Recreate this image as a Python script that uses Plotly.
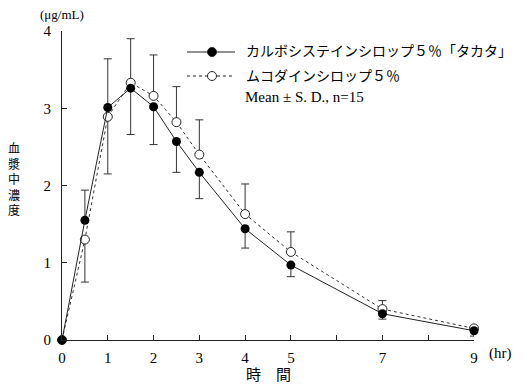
import plotly.graph_objects as go

# ---- data ----
time_hr = [0, 0.5, 1, 1.5, 2, 2.5, 3, 4, 5, 7, 9]
carbo_mean = [0, 1.55, 3.01, 3.26, 3.02, 2.57, 2.17, 1.44, 0.97, 0.34, 0.12]
carbo_sd = [0, 0.39, 0.63, 0.60, 0.49, 0.40, 0.34, 0.25, 0.15, 0.07, 0.07]
muco_mean = [0, 1.30, 2.89, 3.33, 3.16, 2.82, 2.40, 1.63, 1.14, 0.40, 0.15]
muco_sd = [0, 0.55, 0.74, 0.57, 0.53, 0.46, 0.45, 0.39, 0.26, 0.11, 0.03]

x_tickvals = [0, 1, 2, 3, 4, 5, 6, 7, 8, 9]
x_ticktext = ["0", "1", "2", "3", "4", "5", "", "7", "", "9"]
y_tickvals = [0, 1, 2, 3, 4]

carbo_name = "カルボシステインシロップ５％「タカタ」"
muco_name = "ムコダインシロップ５％"
note_text = "Mean ± S. D., n=15"
y_title = "血漿中濃度"

# one-sided SD bars: the upper series shows +SD, the lower series shows -SD
carbo_up = [s if c >= m else 0 for c, m, s in zip(carbo_mean, muco_mean, carbo_sd)]
carbo_dn = [0 if c >= m else s for c, m, s in zip(carbo_mean, muco_mean, carbo_sd)]
muco_up = [s if m > c else 0 for c, m, s in zip(carbo_mean, muco_mean, muco_sd)]
muco_dn = [0 if m > c else s for c, m, s in zip(carbo_mean, muco_mean, muco_sd)]

FONT = "Liberation Serif, Noto Sans CJK JP, serif"
INK = "#222222"

fig = go.Figure()
fig.add_trace(go.Scatter(
    x=time_hr, y=muco_mean, mode="lines+markers", name=muco_name,
    line=dict(color="#333333", width=1, dash="dot"),
    marker=dict(symbol="circle", size=9, color="white", line=dict(color=INK, width=1)),
    error_y=dict(type="data", symmetric=False, array=muco_up, arrayminus=muco_dn,
                 color="#333333", thickness=1, width=4),
    cliponaxis=False, showlegend=False,
))
fig.add_trace(go.Scatter(
    x=time_hr, y=carbo_mean, mode="lines+markers", name=carbo_name,
    line=dict(color=INK, width=1),
    marker=dict(symbol="circle", size=9, color="black", line=dict(color="black", width=0)),
    error_y=dict(type="data", symmetric=False, array=carbo_up, arrayminus=carbo_dn,
                 color="#333333", thickness=1, width=4),
    cliponaxis=False, showlegend=False,
))

# page body has an 8px margin; target plot area is x 62..474, y 31..340 in window pixels
OFF = 8
W, H = 525 - 2 * OFF, 391 - 2 * OFF
L, T = 62 - OFF, 31 - OFF
R = W - L - 412
B = H - T - 309
PW, PH = W - L - R, H - T - B


def px(xw):
    return (xw - OFF - L) / PW


def py(yw):
    return (T + PH - (yw - OFF)) / PH


shapes = []
annotations = []

# manual legend
rows = [(52, carbo_name, "solid", "black"), (76, muco_name, "dot", "white")]
for yp, name, dash, fill in rows:
    shapes.append(dict(type="line", xref="paper", yref="paper",
                       x0=px(187), x1=px(235), y0=py(yp), y1=py(yp),
                       line=dict(color=INK, width=1, dash=dash)))
    shapes.append(dict(type="circle", xref="paper", yref="paper",
                       xsizemode="pixel", ysizemode="pixel",
                       xanchor=px(212), yanchor=py(yp),
                       x0=-4.5, x1=4.5, y0=-4.5, y1=4.5,
                       fillcolor=fill, line=dict(color=INK, width=1)))
    annotations.append(dict(xref="paper", yref="paper", x=px(244), y=py(yp),
                            xanchor="left", yanchor="middle", showarrow=False,
                            text=name, font=dict(family=FONT, size=14, color="black")))
annotations.append(dict(xref="paper", yref="paper", x=px(243), y=py(97),
                        xanchor="left", yanchor="middle", showarrow=False,
                        text=note_text, font=dict(family=FONT, size=15, color="black")))

# vertical (stacked) y-axis title
annotations.append(dict(xref="paper", yref="paper", x=px(14), y=py(180),
                        xanchor="center", yanchor="middle", showarrow=False,
                        text="<br>".join(y_title),
                        font=dict(family=FONT, size=12, color="black")))

annotations.append(dict(xref="paper", yref="paper", x=px(62), y=py(15),
                        xanchor="center", yanchor="middle", showarrow=False,
                        text="(μg/mL)", font=dict(family=FONT, size=13, color="black")))
annotations.append(dict(xref="paper", yref="paper", x=px(500), y=py(353),
                        xanchor="center", yanchor="middle", showarrow=False,
                        text="(hr)", font=dict(family=FONT, size=15, color="black")))
annotations.append(dict(xref="paper", yref="paper", x=px(268), y=py(375),
                        xanchor="center", yanchor="middle", showarrow=False,
                        text="時　間", font=dict(family=FONT, size=15, color="black")))

fig.update_layout(
    width=W, height=H,
    margin=dict(l=L, r=R, t=T, b=B, pad=0),
    paper_bgcolor="white", plot_bgcolor="white",
    font=dict(family=FONT, size=15, color="black"),
    showlegend=False,
    shapes=shapes, annotations=annotations,
    xaxis=dict(range=[0, 9], tickmode="array", tickvals=x_tickvals, ticktext=x_ticktext,
               ticks="inside", ticklen=5, tickcolor=INK, showline=True, linecolor=INK,
               linewidth=1, showgrid=False, zeroline=False, ticklabelstandoff=4,
               tickfont=dict(family=FONT, size=15)),
    yaxis=dict(range=[0, 4], tickmode="array", tickvals=y_tickvals,
               ticks="inside", ticklen=5, tickcolor=INK, showline=True, linecolor=INK,
               linewidth=1, showgrid=False, zeroline=False, ticklabelstandoff=7,
               tickfont=dict(family=FONT, size=15)),
)

fig.write_html("out.html")
